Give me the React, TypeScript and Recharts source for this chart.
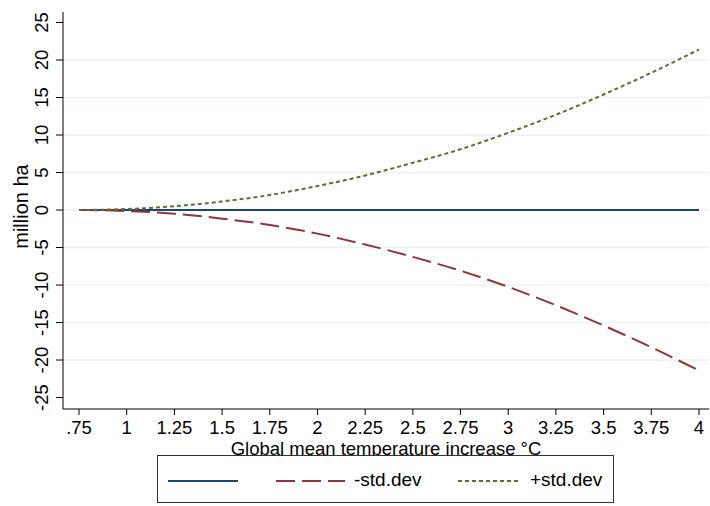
import React from 'react';
import { LineChart, Line, XAxis, YAxis, ReferenceLine, Legend } from 'recharts';

// values
const temps = [0.75, 1, 1.25, 1.5, 1.75, 2, 2.25, 2.5, 2.75, 3, 3.25, 3.5, 3.75, 4];
const baseline = [0, 0, 0, 0, 0, 0, 0, 0, 0, 0, 0, 0, 0, 0];
const minusSd = [0, -0.13, -0.5, -1.15, -2.0, -3.15, -4.6, -6.25, -8.1, -10.25, -12.7, -15.4, -18.3, -21.4];
const plusSd = [0, 0.13, 0.5, 1.14, 2.0, 3.2, 4.6, 6.3, 8.1, 10.3, 12.7, 15.4, 18.3, 21.4];

const xTicks = [0.75, 1, 1.25, 1.5, 1.75, 2, 2.25, 2.5, 2.75, 3, 3.25, 3.5, 3.75, 4];
const yTicks = [-25, -20, -15, -10, -5, 0, 5, 10, 15, 20, 25];
const gridValues = [-20, -15, -10, -5, 0, 5, 10, 15, 20];

const seriesKeys = ['base', 'minus', 'plus'];
const seriesNames = ['', '-std.dev', '+std.dev'];

const data = temps.map((t, i) => ({
  t,
  base: baseline[i],
  minus: minusSd[i],
  plus: plusSd[i],
}));

const FONT = '"Liberation Sans", Arial, Helvetica, sans-serif';

const styles: Record<string, { color: string; width: number; dash?: string }> = {
  base: { color: '#1a476f', width: 2 },
  minus: { color: '#90353b', width: 2, dash: '19 7' },
  plus: { color: '#55752f', width: 2, dash: '4 3' },
};

const fmtX = (v: number) => String(v).replace(/^0\./, '.');

const XTick = (props: any) => {
  const { x, y, payload } = props;
  return (
    <text x={x} y={y} dy="0.71em" textAnchor="middle" fontSize={18.5} fontFamily={FONT} fill="#000">
      {fmtX(payload.value)}
    </text>
  );
};

const YTick = (props: any) => {
  const { x, y, payload } = props;
  return (
    <text
      transform={`translate(${x},${y}) rotate(-90)`}
      textAnchor="middle"
      fontSize={18.5}
      fontFamily={FONT}
      fill="#000"
    >
      {payload.value}
    </text>
  );
};

// legend item offsets inside the box
const legendLineLeft = [10, 118, 300];
const legendLineWidth = [70, 69, 63];

const renderLegend = () => (
  <div
    style={{
      position: 'relative',
      width: 457,
      height: 48,
      border: '1px solid #333',
      boxSizing: 'border-box',
      background: '#fff',
      fontFamily: FONT,
      fontSize: 19,
    }}
  >
    {seriesKeys.map((k, i) => {
      const st = styles[k];
      return (
        <div key={k} style={{ position: 'absolute', left: legendLineLeft[i], top: 0, height: 46, display: 'flex', alignItems: 'center' }}>
          <svg width={legendLineWidth[i]} height={6} style={{ display: 'block', marginTop: 4 }}>
            <line x1={0} y1={3} x2={legendLineWidth[i]} y2={3} stroke={st.color} strokeWidth={st.width} strokeDasharray={st.dash} />
          </svg>
          {seriesNames[i] && <span style={{ marginLeft: 9, color: '#000', whiteSpace: 'nowrap', marginTop: 2 }}>{seriesNames[i]}</span>}
        </div>
      );
    })}
  </div>
);

export default function App() {
  return (
    <div style={{ position: 'absolute', left: 0, top: 0, width: 710, height: 506, background: '#fff' }}>
      <LineChart width={710} height={506} data={data} margin={{ top: 12, right: 1, bottom: 0, left: 0 }}>
        {gridValues.map((v) => (
          <ReferenceLine key={v} y={v} stroke="#eaf2f3" strokeWidth={1.5} />
        ))}
        <XAxis
          type="number"
          dataKey="t"
          domain={[0.6661, 4.0524]}
          ticks={xTicks}
          allowDataOverflow
          height={97}
          tickSize={6}
          tickMargin={6}
          tick={<XTick />}
          stroke="#000"
          tickLine={{ stroke: '#000' }}
          label={{
            content: (p: any) => {
              const vb = p.viewBox || {};
              return (
                <text
                  x={vb.x + vb.width / 2}
                  y={vb.y + 46}
                  textAnchor="middle"
                  fontSize={18.5}
                  fontFamily={FONT}
                  fill="#000"
                >
                  Global mean temperature increase °C
                </text>
              );
            },
          }}
        />
        <YAxis
          type="number"
          domain={[-26.53, 26.4]}
          ticks={yTicks}
          allowDataOverflow
          width={63}
          tickSize={7}
          tickMargin={8}
          tick={<YTick />}
          stroke="#000"
          tickLine={{ stroke: '#000' }}
          label={{
            content: (p: any) => {
              const vb = p.viewBox || {};
              const cy = vb.y + vb.height / 2 - 4;
              return (
                <text
                  transform={`translate(28,${cy}) rotate(-90)`}
                  textAnchor="middle"
                  fontSize={20}
                  fontFamily={FONT}
                  fill="#000"
                >
                  million ha
                </text>
              );
            },
          }}
        />
        {seriesKeys.map((k, i) => (
          <Line
            key={k}
            type="monotone"
            dataKey={k}
            name={seriesNames[i]}
            stroke={styles[k].color}
            strokeWidth={styles[k].width}
            strokeDasharray={styles[k].dash}
            dot={false}
            activeDot={false}
            isAnimationActive={false}
          />
        ))}
        <Legend
          layout="horizontal"
          verticalAlign="middle"
          align="center"
          content={renderLegend}
          wrapperStyle={{ position: 'absolute', left: 157, top: 455, width: 457, height: 48 }}
        />
      </LineChart>
    </div>
  );
}
